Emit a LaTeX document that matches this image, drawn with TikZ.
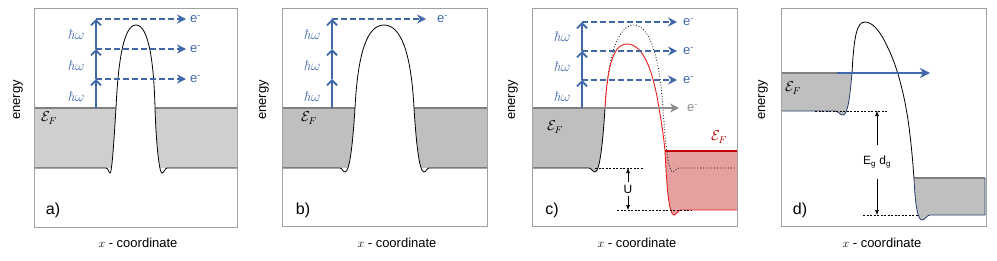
\documentclass[tikz,border=0pt]{standalone}
\usepackage{fontspec}
\setsansfont{Liberation Sans}
\usetikzlibrary{arrows.meta}
\definecolor{myblue}{RGB}{65,105,170}
\definecolor{fillA}{RGB}{208,206,207}
\definecolor{fillB}{RGB}{191,191,191}
\definecolor{redfill}{RGB}{229,160,160}
\definecolor{redline}{RGB}{235,30,30}
\definecolor{darkred}{RGB}{192,0,0}
\definecolor{framegray}{RGB}{160,160,160}
\definecolor{fermigray}{RGB}{128,128,128}
\definecolor{arrowgray}{RGB}{140,140,140}
\definecolor{navyline}{RGB}{40,60,110}
\newcommand{\hwtext}{\textit{ħ}$\omega$}
\tikzset{
  boxframe/.style={draw=framegray, line width=0.8pt},
  fermi/.style={draw=fermigray, line width=1.4pt},
  barrier/.style={draw=black, line width=0.8pt},
  photon/.style={myblue, line width=1.8pt, -{Straight Barb[length=5pt,width=10pt]}},
  electron/.style={myblue, line width=1.2pt, dash pattern=on 6pt off 3pt, -{Stealth[length=9pt,width=9pt,inset=3pt]}},
  elabel/.style={text=myblue, font=\sffamily\fontsize{13}{15}\selectfont, anchor=base west, inner sep=0pt},
  hw/.style={text=myblue, font=\fontsize{14}{16}\selectfont, inner sep=0pt},
  axlabel/.style={font=\sffamily\fontsize{13}{15}\selectfont, inner sep=0pt},
  panellabel/.style={font=\sffamily\fontsize{16}{18}\selectfont, inner sep=0pt},
  fermilabel/.style={font=\fontsize{14}{16}\selectfont, inner sep=0pt},
  dimlabel/.style={font=\sffamily\fontsize{12}{14}\selectfont, inner sep=1pt},
  dimarrow/.style={black, line width=0.6pt, -{Latex[length=5pt,width=4pt]}, shorten <=2pt},
  helpline/.style={black, line width=0.5pt, dash pattern=on 2pt off 1.5pt}
}
\begin{document}
\begin{tikzpicture}[x=1pt,y=-1pt]
\useasboundingbox (0,0) rectangle (997,260);
\fill[white] (0,0) rectangle (997,260);

% ================= panel a =================
\fill[fillA] (34,108) rectangle (237,168);
\fill[white] (106,168) .. controls (108,168) and (109,173) .. (110,173) .. controls (112,173) and (114,140) .. (116,108) .. controls (118,65) and (123,25) .. (136,25) .. controls (149,25) and (154,65) .. (155,108) .. controls (156,140) and (159,173) .. (162,173) .. controls (164,173) and (165,168) .. (167,168) -- (167,180) -- (106,180) -- cycle;
\draw[fermi] (34,108) -- (116,108);
\draw[fermi] (155,108) -- (237,108);
\draw[barrier] (34,168) -- (106,168) .. controls (108,168) and (109,173) .. (110,173) .. controls (112,173) and (114,140) .. (116,108) .. controls (118,65) and (123,25) .. (136,25) .. controls (149,25) and (154,65) .. (155,108) .. controls (156,140) and (159,173) .. (162,173) .. controls (164,173) and (165,168) .. (167,168) -- (237,168);
\draw[boxframe] (34,8) rectangle (237,227);
\coordinate (a0) at (96,108);
\coordinate (a1) at (96,79);
\coordinate (a2) at (96,49);
\coordinate (a3) at (96,19);
\coordinate (at1) at (186,79);
\coordinate (at2) at (186,49);
\coordinate (at3) at (186,19);
\draw[electron] (a1) -- (at1);
\draw[electron] (a2) -- (at2);
\draw[electron] (a3) -- (at3);
\draw[photon] (a0) -- (a1);
\draw[photon] (a1) -- (a2);
\draw[photon] (a2) -- (a3);
\node[elabel] (ae1) at (190,82.5) {e\textsuperscript{-}};
\node[elabel] (ae2) at (190,52.5) {e\textsuperscript{-}};
\node[elabel] (ae3) at (190,22.5) {e\textsuperscript{-}};
\node[hw] (ah1) at (76,97) {\hwtext};
\node[hw] (ah2) at (76,66) {\hwtext};
\node[hw] (ah3) at (76,35) {\hwtext};
\node[fermilabel] (efa) at (49,118) {$\mathcal{E}_F$};
\node[panellabel] (la) at (53,210) {a)};
\node[axlabel, rotate=90] (ena) at (18,100) {energy};
\node[axlabel] (xa) at (138,243) {$x$ - coordinate};

% ================= panel b =================
\fill[fillB] (282,108) rectangle (487,168);
\fill[white] (340,168) .. controls (342,168) and (343,172) .. (345,172) .. controls (350,172) and (353,140) .. (355,108) .. controls (358,50) and (368,25) .. (384,25) .. controls (400,25) and (411,50) .. (414,108) .. controls (416,140) and (419,172) .. (424,172) .. controls (426,172) and (427,168) .. (429,168) -- (429,180) -- (340,180) -- cycle;
\draw[fermi] (282,108) -- (355,108);
\draw[fermi] (414,108) -- (487,108);
\draw[barrier] (282,168) -- (340,168) .. controls (342,168) and (343,172) .. (345,172) .. controls (350,172) and (353,140) .. (355,108) .. controls (358,50) and (368,25) .. (384,25) .. controls (400,25) and (411,50) .. (414,108) .. controls (416,140) and (419,172) .. (424,172) .. controls (426,172) and (427,168) .. (429,168) -- (487,168);
\draw[boxframe] (282,8) rectangle (487,226);
\coordinate (b0) at (332,108);
\coordinate (b1) at (332,79);
\coordinate (b2) at (332,49);
\coordinate (b3) at (332,19);
\coordinate (bt3) at (426,19);
\draw[electron] (b3) -- (bt3);
\draw[photon] (b0) -- (b1);
\draw[photon] (b1) -- (b2);
\draw[photon] (b2) -- (b3);
\node[elabel] (be3) at (437,22.5) {e\textsuperscript{-}};
\node[hw] (bh1) at (312,97) {\hwtext};
\node[hw] (bh2) at (312,66) {\hwtext};
\node[hw] (bh3) at (312,35) {\hwtext};
\node[fermilabel] (efb) at (309,118) {$\mathcal{E}_F$};
\node[panellabel] (lb) at (303,210) {b)};
\node[axlabel, rotate=90] (enb) at (264,100) {energy};
\node[axlabel] (xb) at (397,243) {$x$ - coordinate};

% ================= panel c =================
\fill[fillB] (532,108) -- (605,108) .. controls (603,140) and (600,172) .. (595,172) .. controls (593,172) and (591,168) .. (589,168) -- (532,168) -- cycle;
\fill[redfill] (665,151) -- (737,151) -- (737,210) -- (681,210) .. controls (678,210) and (676,215) .. (674,215) .. controls (669,215) and (667,190) .. (665,151) -- cycle;
\draw[fermi] (532,108) -- (605,108);
\draw[barrier] (532,168) -- (589,168) .. controls (591,168) and (593,172) .. (595,172) .. controls (600,172) and (603,140) .. (605,108);
\draw[black, line width=0.8pt, dotted] (605,108) .. controls (608,50) and (620,25) .. (634,25) .. controls (650,25) and (660,60) .. (663,108) .. controls (665,140) and (668,172) .. (673,172) .. controls (675,172) and (676,168) .. (679,168) -- (737,168);
\draw[redline, line width=0.9pt] (605,108) .. controls (607,75) and (611,44) .. (627,44) .. controls (643,44) and (653,70) .. (659,108) .. controls (662,125) and (664,140) .. (665,151) .. controls (667,190) and (669,215) .. (674,215) .. controls (676,215) and (678,210) .. (681,210) -- (737,210);
\draw[darkred, line width=1.4pt] (665,151) -- (737,151);
\draw[helpline] (595,168) -- (643,168);
\draw[helpline] (617,210) -- (692,210);
\draw[boxframe] (532,8) rectangle (737,226);
\coordinate (cUt) at (628,168);
\coordinate (cUb) at (628,210);
\node[dimlabel] (U) at (628,189) {U};
\draw[dimarrow] (U.north) -- (cUt);
\draw[dimarrow] (U.south) -- (cUb);
\coordinate (c0) at (582,108);
\coordinate (c1) at (582,80);
\coordinate (c2) at (582,51);
\coordinate (c3) at (582,22);
\coordinate (ct0) at (679,108);
\coordinate (ct1) at (677,80);
\coordinate (ct2) at (677,51);
\coordinate (ct3) at (677,22);
\draw[arrowgray, line width=1.4pt, -{Stealth[length=9pt,width=9pt,inset=3pt]}] (c0) -- (ct0);
\draw[electron] (c1) -- (ct1);
\draw[electron] (c2) -- (ct2);
\draw[electron] (c3) -- (ct3);
\draw[photon] (c0) -- (c1);
\draw[photon] (c1) -- (c2);
\draw[photon] (c2) -- (c3);
\node[elabel, text=arrowgray] (ce0) at (687,111.5) {e\textsuperscript{-}};
\node[elabel] (ce1) at (683,83.5) {e\textsuperscript{-}};
\node[elabel] (ce2) at (683,54.5) {e\textsuperscript{-}};
\node[elabel] (ce3) at (683,25.5) {e\textsuperscript{-}};
\node[hw] (ch1) at (562,97) {\hwtext};
\node[hw] (ch2) at (562,67) {\hwtext};
\node[hw] (ch3) at (562,37) {\hwtext};
\node[fermilabel] (efc) at (555,127) {$\mathcal{E}_F$};
\node[fermilabel, text=darkred] (efc2) at (719,137) {$\mathcal{E}_F$};
\node[panellabel] (lc) at (552,210) {c)};
\node[axlabel, rotate=90] (enc) at (513,100) {energy};
\node[axlabel] (xc) at (637,243) {$x$ - coordinate};

% ================= panel d =================
\fill[fillB] (781,73) -- (852,73) .. controls (850,95) and (848,115) .. (843,115) .. controls (840,115) and (838,111) .. (835,111) -- (781,111) -- cycle;
\fill[fillB] (914,178) -- (985,178) -- (985,215) -- (930,215) .. controls (927,215) and (925,220) .. (922,220) .. controls (917,220) and (915,200) .. (914,178) -- cycle;
\draw[fermi] (781,73) -- (852,73);
\draw[fermi] (914,178) -- (985,178);
\draw[navyline, line width=0.8pt] (781,111) -- (835,111) .. controls (838,111) and (840,115) .. (843,115) .. controls (848,115) and (850,95) .. (852,73);
\draw[barrier] (852,73) .. controls (854,35) and (857,22) .. (865,22) .. controls (872,22) and (880,30) .. (888,48) .. controls (898,68) and (906,100) .. (910,135) .. controls (912,152) and (913,165) .. (914,178);
\draw[navyline, line width=0.8pt] (914,178) .. controls (915,200) and (917,220) .. (922,220) .. controls (925,220) and (927,215) .. (930,215) -- (985,215) -- (985,178);
\draw[helpline] (815,111) -- (888,111);
\draw[helpline] (863,215) -- (918,215);
\draw[boxframe] (781,8) rectangle (986,226);
\coordinate (d0) at (837,73);
\coordinate (dt) at (930,73);
\draw[myblue, line width=1.8pt, -{Stealth[length=10pt,width=10pt,inset=3pt]}] (d0) -- (dt);
\coordinate (dEt) at (877,111);
\coordinate (dEb) at (877,215);
\node[dimlabel] (Eg) at (877,162) {E\textsubscript{g} d\textsubscript{g}};
\draw[dimarrow, shorten <=10pt] (Eg.north) -- (dEt);
\draw[dimarrow, shorten <=10pt] (Eg.south) -- (dEb);
\node[fermilabel] (efd) at (793,88) {$\mathcal{E}_F$};
\node[panellabel] (ld) at (800,210) {d)};
\node[axlabel, rotate=90] (end) at (763,100) {energy};
\node[axlabel] (xd) at (882,243) {$x$ - coordinate};
\end{tikzpicture}
\end{document}
